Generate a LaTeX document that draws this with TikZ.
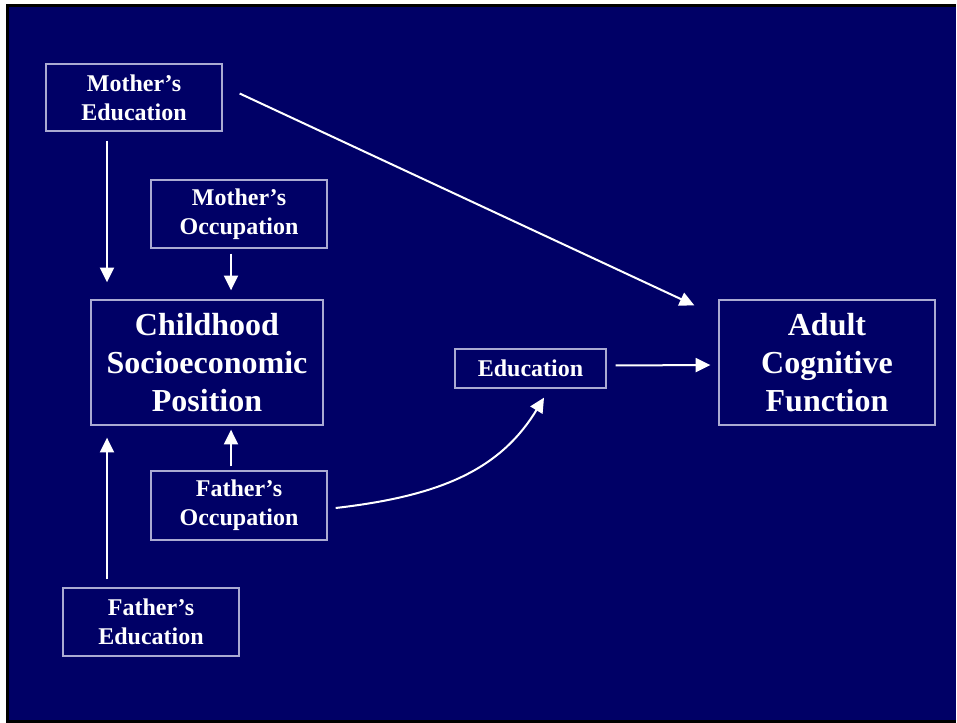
\documentclass[tikz,border=0pt]{standalone}
\usepackage{fontspec}
\setmainfont{Liberation Serif}
\usetikzlibrary{arrows.meta,calc}
\definecolor{navy}{RGB}{0,0,102}
\definecolor{boxline}{RGB}{170,170,210}
\tikzset{
  boxsmall/.style={draw=boxline, line width=1pt, inner sep=0pt, align=center, text=white,
    font=\fontsize{18}{22}\selectfont\bfseries},
  boxbig/.style={draw=boxline, line width=1pt, inner sep=0pt, align=center, text=white,
    font=\fontsize{24}{28.5}\selectfont\bfseries},
  arr/.style={draw=white, line width=1.5pt, -{Triangle[length=11pt,width=10.5pt]}}
}
\begin{document}
\begin{tikzpicture}[x=0.75pt,y=-0.75pt]
\useasboundingbox (0,0) rectangle (957,723);
\fill[white] (0,0) rectangle (957,723);
\fill[black] (6,4) rectangle (956,723);
\fill[navy] (9,7) rectangle (956,720);

\node[boxsmall, minimum width=132pt, minimum height=50.25pt] (medu) at (134,97.5) {Mother’s\\Education};
\node[boxsmall, minimum width=132pt, minimum height=51pt] (mocc) at (239,214) {Mother’s\\Occupation};
\node[boxbig, minimum width=174pt, minimum height=93.75pt] (csep) at (207,362.5) {Childhood\\Socioeconomic\\Position};
\node[boxsmall, minimum width=132pt, minimum height=51.75pt] (focc) at (239,505.5) {Father’s\\Occupation};
\node[boxsmall, minimum width=132pt, minimum height=51pt] (fedu) at (151,622) {Father’s\\Education};
\node[boxsmall, minimum width=113.25pt, minimum height=29.25pt] (edu) at (530.5,368.5) {Education};
\node[boxbig, minimum width=162pt, minimum height=93.75pt] (adult) at (827,362.5) {Adult\\Cognitive\\Function};

\draw[arr] ($(medu.south)+(-27,9)$) -- ($(csep.north)+(-100,-17)$);
\draw[arr] ($(mocc.south)+(-8,5)$) -- ($(csep.north)+(24,-9)$);
\draw[arr] ($(focc.north)+(-8,-4)$) -- ($(csep.south)+(24,4)$);
\draw[arr] ($(fedu.north)+(-44,-8)$) -- ($(csep.south)+(-100,12)$);
\draw[arr] ($(medu.east)+(17,-4)$) -- ($(adult.north west)+(-24,6)$);
\draw[arr] ($(edu.east)+(9,-3)$) -- ($(adult.west)+(-8,2.5)$);
\draw[arr] ($(focc.east)+(8,2.5)$) .. controls (440,496) and (500,470) .. ($(edu.south)+(13.5,9)$);
\end{tikzpicture}
\end{document}
